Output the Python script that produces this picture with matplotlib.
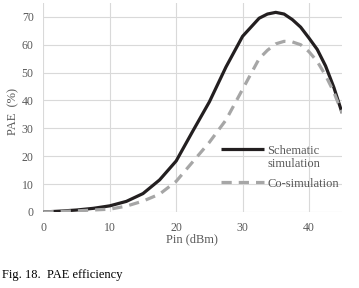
"""PAE vs Pin: schematic simulation vs co-simulation."""

import matplotlib
matplotlib.use("Agg")
import matplotlib.pyplot as plt

PIN = [0, 2.5, 5, 7.5, 10, 12.5, 15, 17.5, 20, 22.5, 25, 27.5, 30, 32.5,
       33.75, 35, 36.25, 37.5, 38.75, 40, 41.25, 42.5, 43.75, 45]
PAE_SCHEMATIC = [0, 0.3, 0.7, 1.3, 2.2, 3.8, 6.6, 11.5, 18.3, 29, 39.5, 52,
                 63, 69.5, 71, 71.6, 71, 69, 66.3, 62.4, 58.3, 52.4, 44.7,
                 35.5]
PAE_COSIM = [0, 0.2, 0.4, 0.7, 1.0, 2.1, 3.9, 6.4, 11, 18, 25, 33, 44, 55,
             58, 60.3, 61.2, 61, 60, 57.5, 54, 49, 43, 35.5]

XTICKS = [0, 10, 20, 30, 40]
YTICKS = [0, 10, 20, 30, 40, 50, 60, 70]

TEXT_COLOR = "#595959"
GRID_COLOR = "#d9d9d9"


def main():
    plt.rcParams["font.family"] = ["Liberation Serif", "DejaVu Serif"]

    fig = plt.figure(figsize=(3.59, 2.88), dpi=100)
    ax = fig.add_axes([0.121, 0.264, 0.832, 0.726])

    ax.plot(PIN, PAE_SCHEMATIC, color="#231f20", lw=2.3,
            label="Schematic\nsimulation", solid_capstyle="butt")
    ax.plot(PIN, PAE_COSIM, color="#a6a6a6", lw=2.3, dashes=(3.2, 2.2),
            label="Co-simulation")

    ax.set_xlim(0, 45)
    ax.set_ylim(0, 75)
    ax.set_xticks(XTICKS)
    ax.set_yticks(YTICKS)
    ax.grid(True, color=GRID_COLOR, lw=0.8)
    ax.set_axisbelow(True)
    for s in ax.spines.values():
        s.set_visible(False)
    ax.tick_params(length=0, labelsize=8.5, labelcolor=TEXT_COLOR, pad=7)

    leg = ax.legend(loc="upper left", bbox_to_anchor=(0.595, 0.32),
                    frameon=False, fontsize=9, handlelength=3.4,
                    handletextpad=0.3, labelspacing=0.6, borderpad=0,
                    borderaxespad=0)
    for t in leg.get_texts():
        t.set_color(TEXT_COLOR)
        t.set_linespacing(1.15)
    # put the handle next to the first line of a two-line label
    for col in leg._legend_handle_box.get_children():
        for row in col.get_children():
            row.align = "top"

    fig.text(13 / 359, 1 - 111 / 288, "PAE  (%)", rotation=90, ha="center",
             va="center", fontsize=9, color=TEXT_COLOR)
    fig.text(192 / 359, 1 - 239 / 288, "Pin (dBm)", ha="center",
             va="center", fontsize=9, color=TEXT_COLOR)
    fig.text(2 / 359, 1 - 275 / 288, "Fig. 18.  PAE efficiency", ha="left",
             va="center", fontsize=9, color="black")

    fig.savefig("out.png", dpi=100)
    plt.close(fig)


if __name__ == "__main__":
    main()
